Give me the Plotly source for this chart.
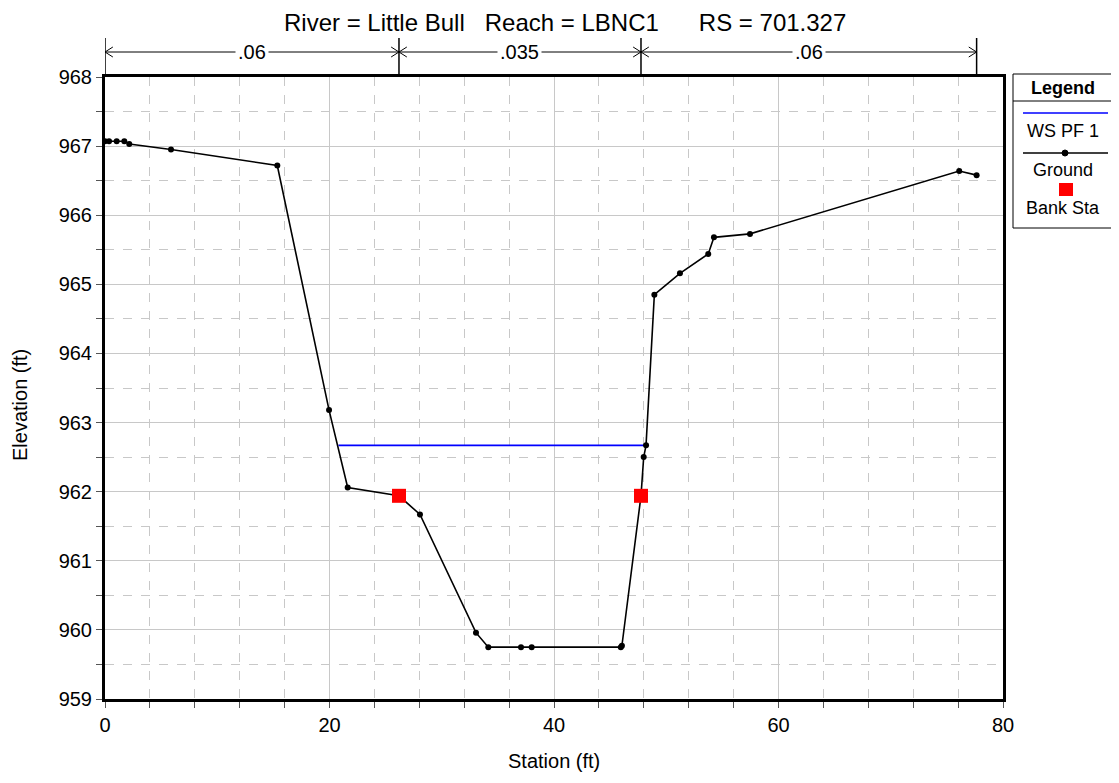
import plotly.graph_objects as go

# ---------------- data ----------------
ground_station = [0.0, 0.36, 1.04, 1.72, 2.16, 5.88, 15.35, 19.96, 21.62, 26.19, 28.06,
                  33.05, 34.15, 37.06, 38.01, 45.95, 46.05, 47.75, 47.99, 48.2, 48.94,
                  51.22, 53.74, 54.25, 57.46, 76.1, 77.65]
ground_elev = [967.07, 967.07, 967.07, 967.07, 967.03, 966.95, 966.72, 963.18, 962.06,
               961.94, 961.67, 959.96, 959.75, 959.75, 959.75, 959.75, 959.77, 961.94,
               962.50, 962.67, 964.85, 965.16, 965.44, 965.68, 965.73, 966.64, 966.58]
ws_station = [20.8, 48.2]
ws_elev = [962.67, 962.67]
bank_station = [26.19, 47.75]
bank_elev = [961.94, 961.94]
n_bounds = [0.0, 26.19, 47.75, 77.65]
n_labels = [".06", ".035", ".06"]
title_text = "River = Little Bull\u00a0\u00a0\u00a0Reach = LBNC1\u00a0\u00a0\u00a0\u00a0\u00a0\u00a0RS = 701.327"
legend_names = ["WS PF 1", "Ground", "Bank Sta"]

FONT = "Liberation Sans, Arial, sans-serif"
OFF = 8  # page body margin in the browser
W, H = 1119 - OFF, 783 - OFF
# plot area in reference (window) pixels
RL, RR, RT, RB = 105, 1003, 77, 699
L, R, T, B = RL - OFF, RR - OFF, RT - OFF, RB - OFF


def px(xp):
    return (xp - RL) / (RR - RL)


def py(yp):
    return (RB - yp) / (RB - RT)


fig = go.Figure()
fig.add_trace(go.Scatter(x=ws_station, y=ws_elev, mode="lines",
                         line=dict(color="#0000ff", width=1.6), name=legend_names[0]))
fig.add_trace(go.Scatter(x=ground_station, y=ground_elev, mode="lines+markers",
                         line=dict(color="black", width=1.6),
                         marker=dict(color="black", size=6), name=legend_names[1]))
fig.add_trace(go.Scatter(x=bank_station, y=bank_elev, mode="markers",
                         marker=dict(color="#ff0000", size=14, symbol="square"),
                         name=legend_names[2]))

shapes = []
annotations = []

# Manning's n dimension lines
y_dim = py(52)
y_v0, y_v1 = 1.0, py(38)
adx = 0.7
ady = 5 / (RB - RT)
for b in n_bounds:
    shapes.append(dict(type="line", xref="x", yref="paper", x0=b, x1=b, y0=y_v0, y1=y_v1,
                       line=dict(color="black", width=1.5)))
for i, lab in enumerate(n_labels):
    a, b = n_bounds[i], n_bounds[i + 1]
    shapes.append(dict(type="line", xref="x", yref="paper", x0=a, x1=b, y0=y_dim, y1=y_dim,
                       line=dict(color="black", width=1)))
    shapes.append(dict(type="path", xref="x", yref="paper",
                       path=f"M {a+adx},{y_dim+ady} L {a},{y_dim} L {a+adx},{y_dim-ady}",
                       line=dict(color="black", width=1)))
    shapes.append(dict(type="path", xref="x", yref="paper",
                       path=f"M {b-adx},{y_dim+ady} L {b},{y_dim} L {b-adx},{y_dim-ady}",
                       line=dict(color="black", width=1)))
    annotations.append(dict(x=(a + b) / 2, y=y_dim, xref="x", yref="paper", text=lab,
                            showarrow=False, bgcolor="white", borderpad=2,
                            yanchor="middle", xanchor="center",
                            font=dict(family=FONT, size=20, color="black")))


def label(xr, yr, text, size, angle=0):
    annotations.append(dict(x=px(xr), y=py(yr), xref="paper", yref="paper", text=text,
                            textangle=angle, showarrow=False, xanchor="center",
                            yanchor="middle", font=dict(family=FONT, size=size, color="black")))


# title and axis titles
label(565, 22, title_text, 24)
label(554, 761, "Station (ft)", 20)
label(20, 405, "Elevation (ft)", 20, angle=-90)

# custom legend
lx0, lx1 = px(1013), px(1113)
shapes.append(dict(type="rect", xref="paper", yref="paper", x0=lx0, x1=lx1, y0=py(228), y1=py(74),
                   line=dict(color="black", width=1), fillcolor="white"))
shapes.append(dict(type="line", xref="paper", yref="paper", x0=lx0, x1=lx1, y0=py(101), y1=py(101),
                   line=dict(color="black", width=1)))
label(1063, 88, "<b>Legend</b>", 18)
shapes.append(dict(type="line", xref="paper", yref="paper", x0=px(1023), x1=px(1108),
                   y0=py(113), y1=py(113), line=dict(color="#0000ff", width=1.6)))
label(1063, 131, legend_names[0], 18)
shapes.append(dict(type="line", xref="paper", yref="paper", x0=px(1023), x1=px(1108),
                   y0=py(153), y1=py(153), line=dict(color="black", width=1.6)))
shapes.append(dict(type="circle", xref="paper", yref="paper", x0=px(1062), x1=px(1068),
                   y0=py(156), y1=py(150), line=dict(color="black", width=1), fillcolor="black"))
label(1063, 170, legend_names[1], 18)
shapes.append(dict(type="rect", xref="paper", yref="paper", x0=px(1059), x1=px(1073),
                   y0=py(196), y1=py(183), line=dict(color="#ff0000", width=0), fillcolor="#ff0000"))
label(1063, 208, legend_names[2], 18)

grid_col = "#c8c8c8"
fig.update_layout(
    width=W, height=H,
    margin=dict(l=L, r=W - R, t=T, b=H - B, autoexpand=False),
    paper_bgcolor="white", plot_bgcolor="white",
    showlegend=False,
    shapes=shapes, annotations=annotations,
    font=dict(family=FONT, size=20, color="black"),
    xaxis=dict(range=[0, 80], dtick=20, tick0=0, showgrid=True, gridcolor=grid_col, gridwidth=1,
               zeroline=False, showline=True, linecolor="black", linewidth=3, mirror=True,
               ticks="outside", ticklen=6, tickcolor="#555555", automargin=False,
               tickfont=dict(family=FONT, size=20),
               minor=dict(dtick=4, showgrid=True, gridcolor=grid_col, griddash="dash",
                          ticks="outside", ticklen=6, tickcolor="#555555")),
    yaxis=dict(range=[959, 968], dtick=1, tick0=959, showgrid=True, gridcolor=grid_col, gridwidth=1,
               zeroline=False, showline=True, linecolor="black", linewidth=3, mirror=True,
               ticks="outside", ticklen=6, tickcolor="#555555", automargin=False,
               tickfont=dict(family=FONT, size=20),
               minor=dict(dtick=0.5, showgrid=True, gridcolor=grid_col, griddash="dash",
                          ticks="outside", ticklen=6, tickcolor="#555555")),
)

fig.write_html("out.html")
